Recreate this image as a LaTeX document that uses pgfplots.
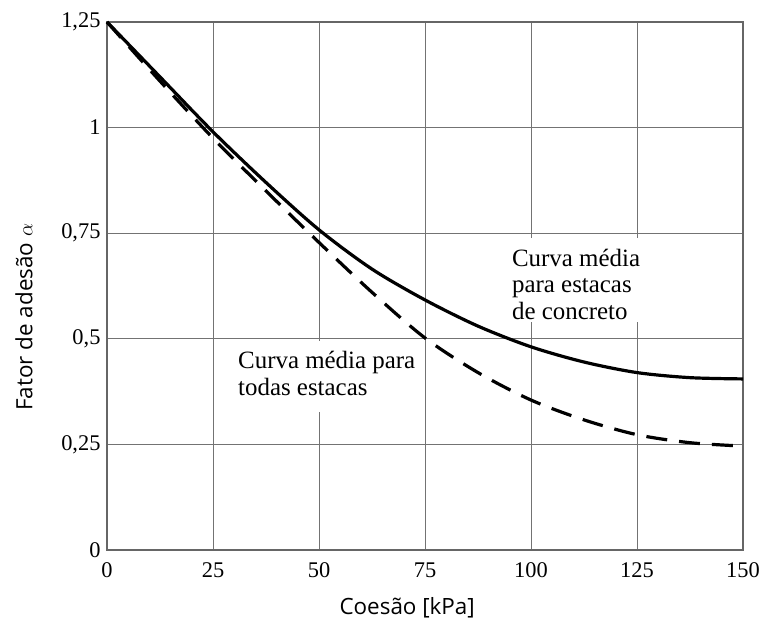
\documentclass[border=0pt]{standalone}
\usepackage{fontspec}
\setmainfont{Liberation Serif}
\newfontfamily\labfont{Open Sans}
\usepackage{pgfplots}
\pgfplotsset{compat=1.18}
\begin{document}
\begin{tikzpicture}[x=1bp,y=1bp]
\useasboundingbox (-107,-74) rectangle (661,550);
\begin{axis}[at={(0,0)},anchor=south west, scale only axis,
  width=636bp, height=528bp,
  xmin=0,xmax=150,ymin=0,ymax=1.25,
  xtick={0,25,50,75,100,125,150},
  ytick={0,0.25,0.5,0.75,1,1.25},
  xticklabels={0,25,50,75,100,125,150},
  yticklabels={0,{0,25},{0,5},{0,75},1,{1,25}},
  grid=major,
  grid style={black!55, line width=1bp},
  axis line style={black!60, line width=1.5bp},
  major tick length=0pt,
  tick label style={font=\fontsize{22.5}{22.5}\selectfont, text=black},
  xticklabel style={yshift=-9bp},
  yticklabel style={xshift=-3bp},
  xlabel={Coesão [kPa]},
  ylabel={Fator de adesão $\alpha$},
  label style={font=\labfont\fontsize{22.5}{22.5}\selectfont},
  xlabel style={at={(axis description cs:0.472,-0.11)}, anchor=center},
  ylabel style={at={(axis description cs:-0.1305,0.441)}, anchor=center},
  clip=false,
]
\fill[white] (axis cs:94,0.54) rectangle (axis cs:126.9,0.739);
\fill[white] (axis cs:29.5,0.327) rectangle (axis cs:74.3,0.495);
\node[anchor=north west, inner sep=0pt, align=left,
  font=\fontsize{25}{26.5}\selectfont, text=black]
  at (axis cs:95.5,0.7126) {Curva média\\para estacas\\de concreto};
\node[anchor=north west, inner sep=0pt, align=left,
  font=\fontsize{25}{27}\selectfont, text=black]
  at (axis cs:30.9,0.471) {Curva média para\\todas estacas};
\addplot[black, line width=3.2bp, smooth, tension=0.5] coordinates {
 (0,1.25) (12.5,1.12) (25,0.99) (37.5,0.87) (50,0.758) (62.5,0.665)
 (75,0.592) (87.5,0.53) (100,0.481) (112.5,0.445) (125,0.42)
 (137.5,0.408) (150,0.405)};
\addplot[black, line width=3.2bp, smooth, tension=0.5,
  dash pattern=on 21bp off 12bp] coordinates {
 (0,1.25) (12.5,1.11) (25,0.975) (37.5,0.85) (50,0.728) (62.5,0.61)
 (75,0.502) (87.5,0.42) (100,0.355) (112.5,0.308) (125,0.273)
 (137.5,0.254) (150,0.246)};
\end{axis}
\end{tikzpicture}
\end{document}
